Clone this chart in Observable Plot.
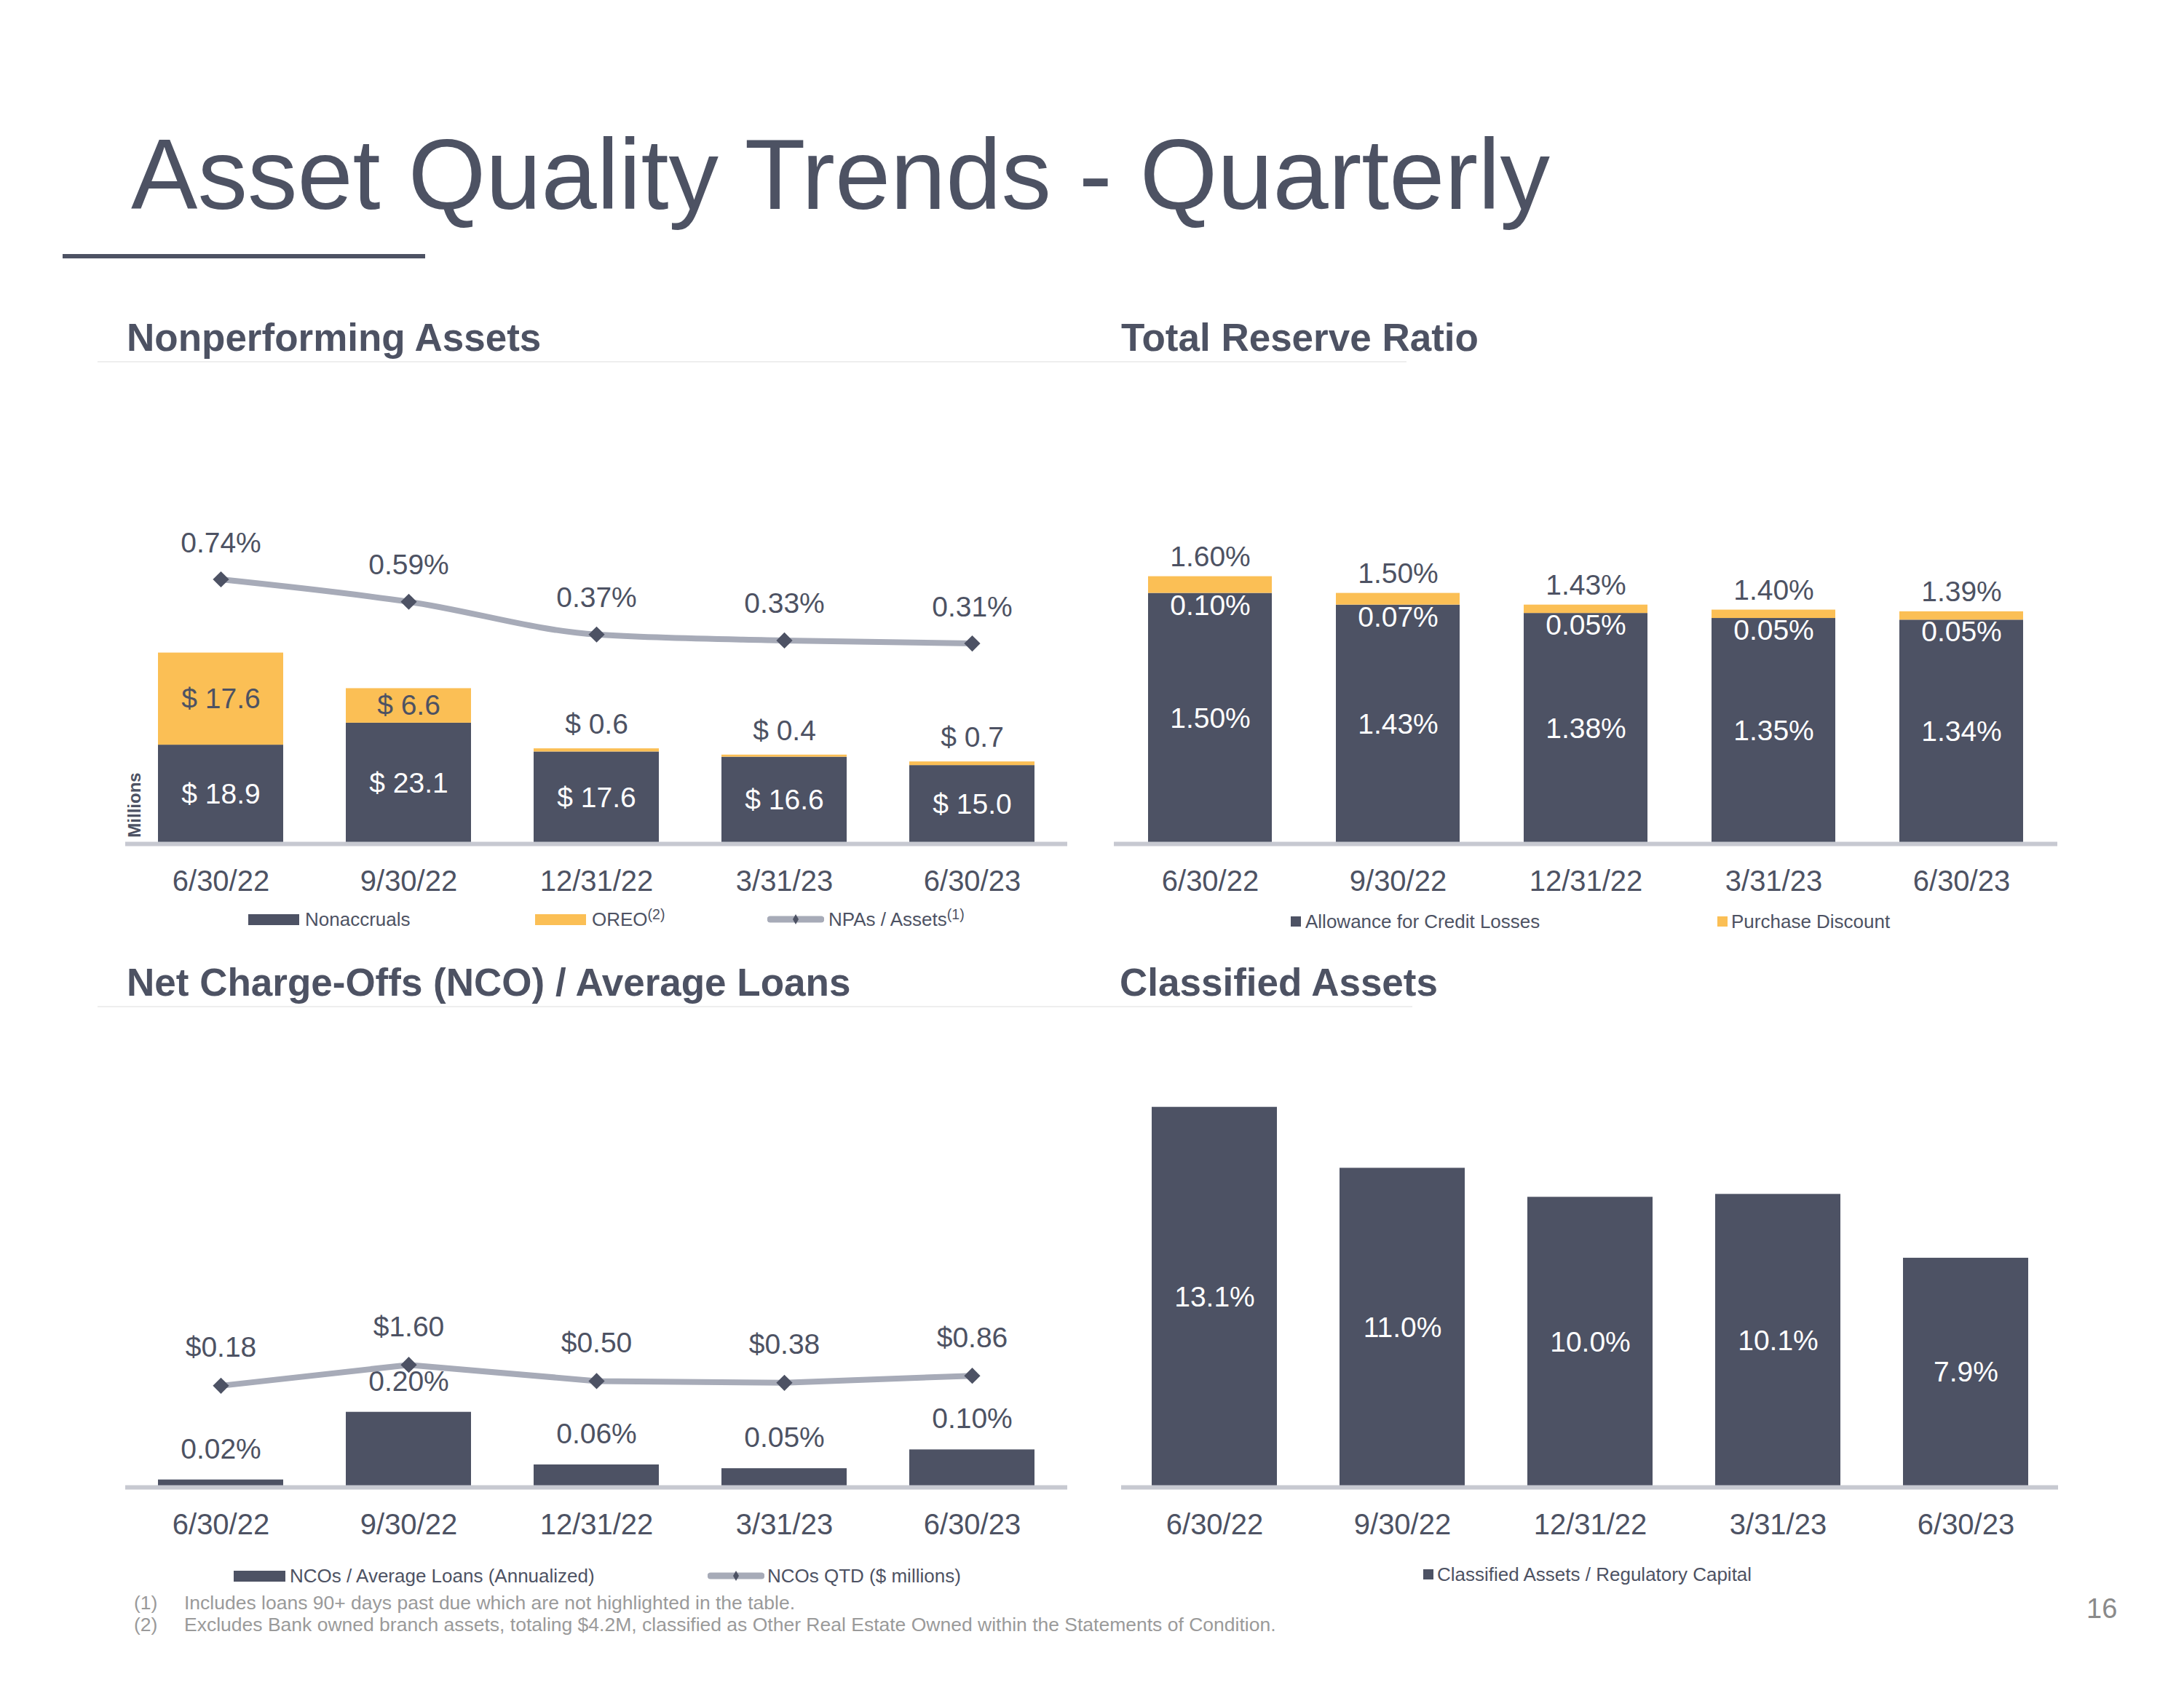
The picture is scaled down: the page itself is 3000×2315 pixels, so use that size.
<!DOCTYPE html>
<html><head><meta charset="utf-8">
<script src="https://cdn.jsdelivr.net/npm/d3@7"></script>
<script src="https://cdn.jsdelivr.net/npm/@observablehq/plot@0.6"></script>
<style>
html,body{margin:0;padding:0;background:#fff;}
#page{position:relative;width:3000px;height:2315px;overflow:hidden;font-family:"Liberation Sans",Arial,sans-serif;color:#4d5263;background:#fff;}
.t{position:absolute;white-space:nowrap;line-height:1;}
.sw{position:absolute;}
sup{font-size:0.75em;vertical-align:0.45em;line-height:0;}
</style></head>
<body><div id="page"></div>
<script>
// ---------- data ----------
const quarters = ["6/30/22","9/30/22","12/31/22","3/31/23","6/30/23"];
const nonaccruals = [18.9, 23.1, 17.6, 16.6, 15.0];
const oreo = [17.6, 6.6, 0.6, 0.4, 0.7];
const npaToAssets = [0.74, 0.59, 0.37, 0.33, 0.31];
const allowance = [1.50, 1.43, 1.38, 1.35, 1.34];
const purchaseDiscount = [0.10, 0.07, 0.05, 0.05, 0.05];
const totalReserve = [1.60, 1.50, 1.43, 1.40, 1.39];
const ncoRatio = [0.02, 0.20, 0.06, 0.05, 0.10];
const ncoQtd = [0.18, 1.60, 0.50, 0.38, 0.86];
const classified = [13.1, 11.0, 10.0, 10.1, 7.9];

// ---------- style ----------
const DARK = "#4d5264", YEL = "#fbbf55", LINE = "#a7abb8", AXIS = "#c7c9d1", TXT = "#4d5263";
const FONT = "Liberation Sans, Arial, sans-serif";
const page = document.getElementById("page");

function place(el, left, top) {
  el.style.position = "absolute";
  el.style.left = left + "px";
  el.style.top = top + "px";
  page.appendChild(el);
}
function text(str, left, top, size, opts = {}) {
  const d = document.createElement("div");
  d.className = "t";
  d.innerHTML = str;
  d.style.fontSize = size + "px";
  if (opts.bold) d.style.fontWeight = "bold";
  if (opts.color) d.style.color = opts.color;
  if (opts.rotate) { d.style.transform = "rotate(-90deg)"; d.style.transformOrigin = "center"; }
  place(d, left, top);
  return d;
}
function rect(left, top, w, h, color) {
  const d = document.createElement("div");
  d.className = "sw";
  d.style.width = w + "px"; d.style.height = h + "px"; d.style.background = color;
  place(d, left, top);
}
function lineSwatch(left, centerY) {
  const ns = "http://www.w3.org/2000/svg";
  const s = document.createElementNS(ns, "svg");
  s.setAttribute("width", 78); s.setAttribute("height", 24);
  s.innerHTML = `<line x1="4" x2="74" y1="12" y2="12" stroke="${LINE}" stroke-width="9" stroke-linecap="round"/>
    <polygon points="39,5 43,12 39,19 35,12" fill="${DARK}"/>`;
  s.style.position = "absolute"; s.style.left = left + "px"; s.style.top = (centerY - 12) + "px";
  page.appendChild(s);
}

function basePlot(cfg) {
  return Plot.plot({
    width: cfg.width, height: cfg.height,
    marginLeft: cfg.ml, marginRight: cfg.mr, marginTop: cfg.mt, marginBottom: cfg.mb,
    x: {domain: quarters, paddingInner: cfg.pi, paddingOuter: cfg.po, label: null, ...(cfg.noAxis ? {axis: null} : {})},
    y: {domain: [0, cfg.ymax], axis: null},
    color: cfg.color,
    style: {background: "transparent", fontFamily: FONT, fontSize: "40px", color: TXT, overflow: "visible"},
    marks: cfg.marks
  });
}
const xAxis = () => Plot.axisX({tickSize: 0, tickPadding: 36, fontSize: 40, label: null, fill: TXT});

// ---------- header ----------
text("Asset Quality Trends - Quarterly", 180, 171, 137, {color: "#4d5263"});
rect(86, 349, 498, 6, "#4d5263");
text("Nonperforming Assets", 174, 437, 53, {bold: true});
text("Total Reserve Ratio", 1540, 437, 53, {bold: true});
text("Net Charge-Offs (NCO) / Average Loans", 174, 1323, 53, {bold: true});
text("Classified Assets", 1538, 1323, 53, {bold: true});
rect(134, 496, 1798, 2, "#eeeeee");
rect(134, 1382, 1806, 2, "#eeeeee");

// ---------- Chart 1: Nonperforming Assets ----------
{
  const rows = quarters.flatMap((q, i) => [
    {q, series: "Nonaccruals", v: nonaccruals[i], base: 0},
    {q, series: "OREO", v: oreo[i], base: nonaccruals[i]}
  ]);
  const na = rows.filter(d => d.series === "Nonaccruals");
  const or = rows.filter(d => d.series === "OREO");
  const big = or.filter(d => d.v > 2), small = or.filter(d => d.v <= 2);
  const W = 1500, H = 560, ml = 172, mr = 34, mb = 101, mt = 100;
  const ymax = (H - mb - mt) / 7.19;
  place(basePlot({
    width: W, height: H, ml, mr, mt, mb, pi: 0.333, po: 0.174, ymax,
    color: {domain: ["Nonaccruals", "OREO"], range: [DARK, YEL]},
    marks: [
      Plot.barY(rows, {x: "q", y: "v", fill: "series"}),
      Plot.ruleY([0], {stroke: AXIS, strokeWidth: 6}),
      Plot.text(na, {x: "q", y: d => d.v / 2, text: d => "$ " + d.v.toFixed(1), fill: "white", fontSize: 39}),
      Plot.text(big, {x: "q", y: d => d.base + d.v / 2, text: d => "$ " + d.v.toFixed(1), fill: TXT, fontSize: 39}),
      Plot.text(small, {x: "q", y: d => d.base + d.v, dy: -33, text: d => "$ " + d.v.toFixed(1), fill: TXT, fontSize: 39}),
      xAxis()
    ]
  }), 0, 700);
  // NPAs / Assets overlay (secondary scale)
  const lr = quarters.map((q, i) => ({q, v: npaToAssets[i]}));
  const mb2 = 313, mt2 = 50;
  place(basePlot({
    width: W, height: H, ml, mr, mt: mt2, mb: mb2, pi: 0.333, po: 0.174, ymax: (H - mb2 - mt2) / 204.7, noAxis: true,
    marks: [
      Plot.line(lr, {x: "q", y: "v", stroke: LINE, strokeWidth: 8, curve: "monotone-x"}),
      Plot.dot(lr, {x: "q", y: "v", symbol: "diamond2", r: 10, fill: DARK, stroke: "none"}),
      Plot.text(lr, {x: "q", y: "v", dy: -50, text: d => d.v.toFixed(2) + "%", fill: TXT, fontSize: 39})
    ]
  }), 0, 700);
  text("Millions", 140, 1094, 24, {bold: true, rotate: true});
  // legend
  rect(341, 1256, 70, 15, DARK);
  text("Nonaccruals", 419, 1250, 26);
  rect(735, 1256, 70, 15, YEL);
  text("OREO<sup>(2)</sup>", 813, 1250, 26);
  lineSwatch(1054, 1263);
  text("NPAs / Assets<sup>(1)</sup>", 1138, 1250, 26);
}

// ---------- Chart 2: Total Reserve Ratio ----------
{
  const rows = quarters.flatMap((q, i) => [
    {q, series: "Allowance for Credit Losses", v: allowance[i]},
    {q, series: "Purchase Discount", v: purchaseDiscount[i]}
  ]);
  const al = rows.filter(d => d.series === "Allowance for Credit Losses");
  const pd = quarters.map((q, i) => ({q, v: purchaseDiscount[i], base: allowance[i]}));
  const tot = quarters.map((q, i) => ({q, v: totalReserve[i]}));
  const W = 1400, H = 560, ml = 30, mr = 74, mb = 101, mt = 60;
  place(basePlot({
    width: W, height: H, ml, mr, mt, mb, pi: 0.343, po: 0.175, ymax: (H - mb - mt) / 229.6,
    color: {domain: ["Allowance for Credit Losses", "Purchase Discount"], range: [DARK, YEL]},
    marks: [
      Plot.barY(rows, {x: "q", y: "v", fill: "series"}),
      Plot.ruleY([0], {stroke: AXIS, strokeWidth: 6}),
      Plot.text(al, {x: "q", y: d => d.v / 2, text: d => d.v.toFixed(2) + "%", fill: "white", fontSize: 39}),
      Plot.text(pd, {x: "q", y: "base", dy: 17, text: d => d.v.toFixed(2) + "%", fill: "white", fontSize: 39}),
      Plot.text(tot, {x: "q", y: "v", dy: -27, text: d => d.v.toFixed(2) + "%", fill: TXT, fontSize: 39}),
      xAxis()
    ]
  }), 1500, 700);
  rect(1773, 1259, 14, 14, DARK);
  text("Allowance for Credit Losses", 1793, 1253, 26);
  rect(2359, 1259, 14, 14, YEL);
  text("Purchase Discount", 2378, 1253, 26);
}

// ---------- Chart 3: NCO / Average Loans ----------
{
  const br = quarters.map((q, i) => ({q, v: ncoRatio[i]}));
  const lr = quarters.map((q, i) => ({q, v: ncoQtd[i]}));
  const W = 1500, H = 560, ml = 172, mr = 34, mb = 117, mt = 100;
  place(basePlot({
    width: W, height: H, ml, mr, mt, mb, pi: 0.333, po: 0.174, ymax: (H - mb - mt) / 516.5,
    marks: [
      Plot.barY(br, {x: "q", y: "v", fill: DARK}),
      Plot.ruleY([0], {stroke: AXIS, strokeWidth: 6}),
      Plot.text(br, {x: "q", y: "v", dy: -42, text: d => d.v.toFixed(2) + "%", fill: TXT, fontSize: 39}),
      xAxis()
    ]
  }), 0, 1600);
  const mb2 = 253, mt2 = 100;
  place(basePlot({
    width: W, height: H, ml, mr, mt: mt2, mb: mb2, pi: 0.333, po: 0.174, ymax: (H - mb2 - mt2) / 20.2, noAxis: true,
    marks: [
      Plot.line(lr, {x: "q", y: "v", stroke: LINE, strokeWidth: 8}),
      Plot.dot(lr, {x: "q", y: "v", symbol: "diamond2", r: 10, fill: DARK, stroke: "none"}),
      Plot.text(lr, {x: "q", y: "v", dy: -52, text: d => "$" + d.v.toFixed(2), fill: TXT, fontSize: 39})
    ]
  }), 0, 1600);
  rect(321, 2158, 71, 15, DARK);
  text("NCOs / Average Loans (Annualized)", 398, 2152, 26);
  lineSwatch(972, 2165);
  text("NCOs QTD ($ millions)", 1054, 2152, 26);
}

// ---------- Chart 4: Classified Assets ----------
{
  const br = quarters.map((q, i) => ({q, v: classified[i]}));
  const W = 1400, H = 760, ml = 40, mr = 73, mb = 117, mt = 60;
  place(basePlot({
    width: W, height: H, ml, mr, mt, mb, pi: 0.335, po: 0.154, ymax: (H - mb - mt) / 39.87,
    marks: [
      Plot.barY(br, {x: "q", y: "v", fill: DARK}),
      Plot.ruleY([0], {stroke: AXIS, strokeWidth: 6}),
      Plot.text(br, {x: "q", y: d => d.v / 2, text: d => d.v.toFixed(1) + "%", fill: "white", fontSize: 39}),
      xAxis()
    ]
  }), 1500, 1400);
  rect(1955, 2156, 14, 14, DARK);
  text("Classified Assets / Regulatory Capital", 1974, 2150, 26);
}

// ---------- footnotes ----------
text("(1)", 184, 2189, 26.5, {color: "#9a9a9a"});
text("Includes loans 90+ days past due which are not highlighted in the table.", 253, 2189, 26.5, {color: "#9a9a9a"});
text("(2)", 184, 2219, 26.5, {color: "#9a9a9a"});
text("Excludes Bank owned branch assets, totaling $4.2M, classified as Other Real Estate Owned within the Statements of Condition.", 253, 2219, 26.5, {color: "#9a9a9a"});
text("16", 2866, 2191, 38, {color: "#8a8a8a"});
</script>
</body></html>
